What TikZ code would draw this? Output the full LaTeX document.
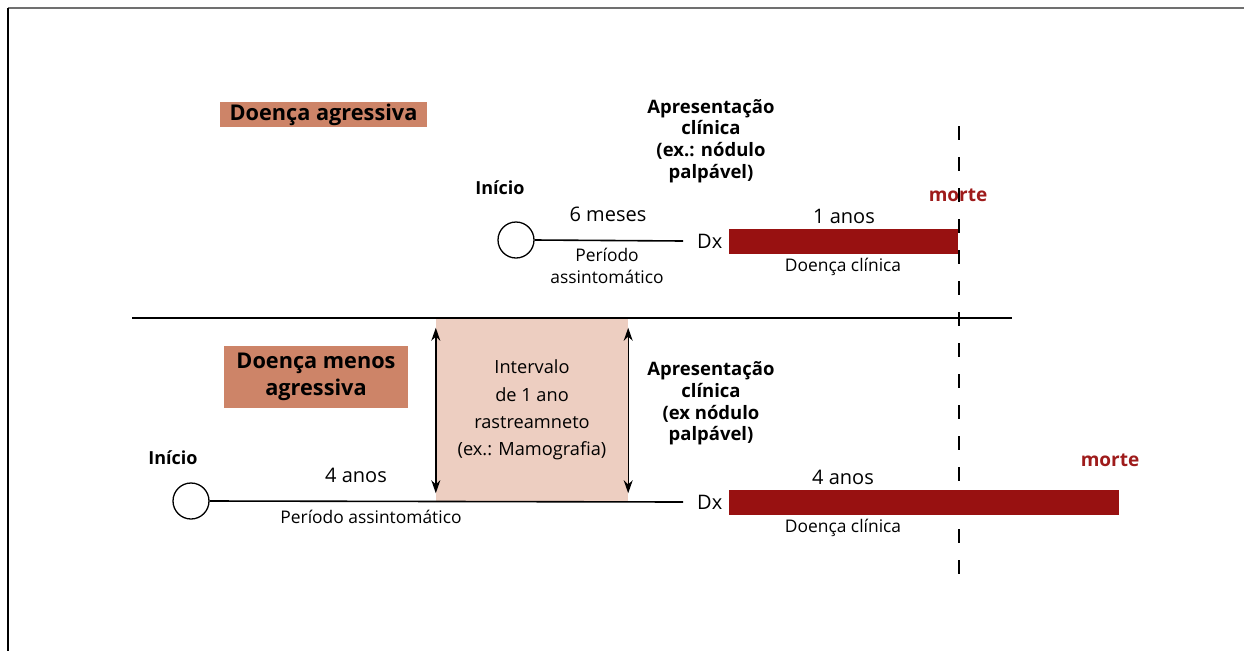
\documentclass[tikz,border=0pt]{standalone}
\usepackage{fontspec}
\setmainfont{Open Sans}
\usetikzlibrary{arrows.meta}
\definecolor{salmon}{HTML}{CD8468}
\definecolor{pinkbox}{HTML}{EDCEC1}
\definecolor{barred}{HTML}{981111}
\definecolor{mortered}{HTML}{9E1B1B}
\definecolor{framegray}{HTML}{707070}
\newcommand{\fs}[2]{\fontsize{#1}{#2}\selectfont}
\begin{document}
\begin{tikzpicture}[x=1pt,y=-1pt,
  txt/.style={inner sep=0pt,align=center,font=\fs{17.4}{21.7}},
  boldtxt/.style={inner sep=0pt,align=center,font=\fs{18.5}{21.7}\bfseries},
  label/.style={fill=salmon,inner sep=0pt,align=center,font=\fs{21.7}{27}\bfseries},
  bar/.style={fill=barred,draw=none},
  start/.style={circle,draw,line width=1.3pt,minimum size=36pt,inner sep=0pt},
  tl/.style={line width=1.6pt},
  dx/.style={inner xsep=14pt,inner ysep=0pt,font=\fs{20}{22}},
  morte/.style={inner sep=0pt,font=\fs{19}{20}\bfseries,text=mortered},
  dbl/.style={line width=1.4pt,{Stealth[length=13pt,width=9pt]}-{Stealth[length=13pt,width=9pt]}}
]
\useasboundingbox (0,0) rectangle (1244,651);
% frame
\coordinate (fTL) at (8,8);
\coordinate (fTR) at (1244,8);
\coordinate (fBL) at (8,651);
\draw[framegray,line width=2pt] (fTL) -- (fTR);
\draw[black,line width=1.5pt] (fTL) -- (fBL);

% ---------- top: aggressive ----------
\node[label,minimum width=207pt,minimum height=25pt] (lab1) at (323.5,114.5) {Doença agressiva};
\node[boldtxt] (ap1) at (711,141) {Apresentação\\clínica\\(ex.: nódulo\\palpável)};
\node[boldtxt,font=\fs{18}{20}\bfseries] (ini1) at (500,188) {Início};
\node[start] (c1) at (516,240) {};
\node[dx,anchor=west] (dx1) at (683,241) {Dx};
\draw[tl] (c1.east) -- (dx1.west);
\node[txt,font=\fs{20}{22}] (t6m) at (608,214) {6 meses};
\node[txt] (pa1) at (607,266) {Período\\assintomático};
\node[bar,minimum width=229pt,minimum height=25pt,inner sep=0pt] (bar1) at (843.5,241.5) {};
\node[txt,font=\fs{20}{22}] (t1a) at (844,216) {1 anos};
\node[txt] (dc1) at (843,267) {Doença clínica};
\node[morte] (m1) at (958,195) {morte};

% dashed line
\coordinate (dTop) at (959,126);
\coordinate (dBot) at (959,588);
\draw[line width=1.7pt,dash pattern=on 14pt off 17pt] (dTop) -- (dBot);

% separator
\coordinate (sL) at (132,318);
\coordinate (sR) at (1012,318);
\draw[line width=1.4pt] (sL) -- (sR);

% ---------- bottom: less aggressive ----------
\node[label,minimum width=184pt,minimum height=62pt] (lab2) at (316,377) {Doença menos\\agressiva};
\node[fill=pinkbox,minimum width=192pt,minimum height=182pt,inner sep=0pt] (pink) at (532,410) {};
\node[txt,font=\fs{18.2}{27.3}] (intv) at (532,410) {Intervalo\\de 1 ano\\rastreamneto\\(ex.: Mamografia)};
\draw[dbl] ([yshift=-9pt]pink.north west) -- ([yshift=8pt]pink.south west);
\draw[dbl] ([yshift=-9pt]pink.north east) -- ([yshift=8pt]pink.south east);
\node[boldtxt] (ap2) at (711,403.5) {Apresentação\\clínica\\(ex nódulo\\palpável)};
\node[boldtxt,font=\fs{18}{20}\bfseries] (ini2) at (173,458) {Início};
\node[start] (c2) at (191,501) {};
\node[dx,anchor=west] (dx2) at (683,502) {Dx};
\draw[tl] (c2.east) -- (dx2.west);
\node[txt,font=\fs{20}{22}] (t4a) at (356,475) {4 anos};
\node[txt] (pa2) at (371,517) {Período assintomático};
\node[bar,minimum width=390pt,minimum height=25pt,inner sep=0pt] (bar2) at (924,502.5) {};
\node[txt,font=\fs{20}{22}] (t4b) at (843,477) {4 anos};
\node[txt] (dc2) at (843,528) {Doença clínica};
\node[morte] (m2) at (1110,460) {morte};
\end{tikzpicture}
\end{document}
